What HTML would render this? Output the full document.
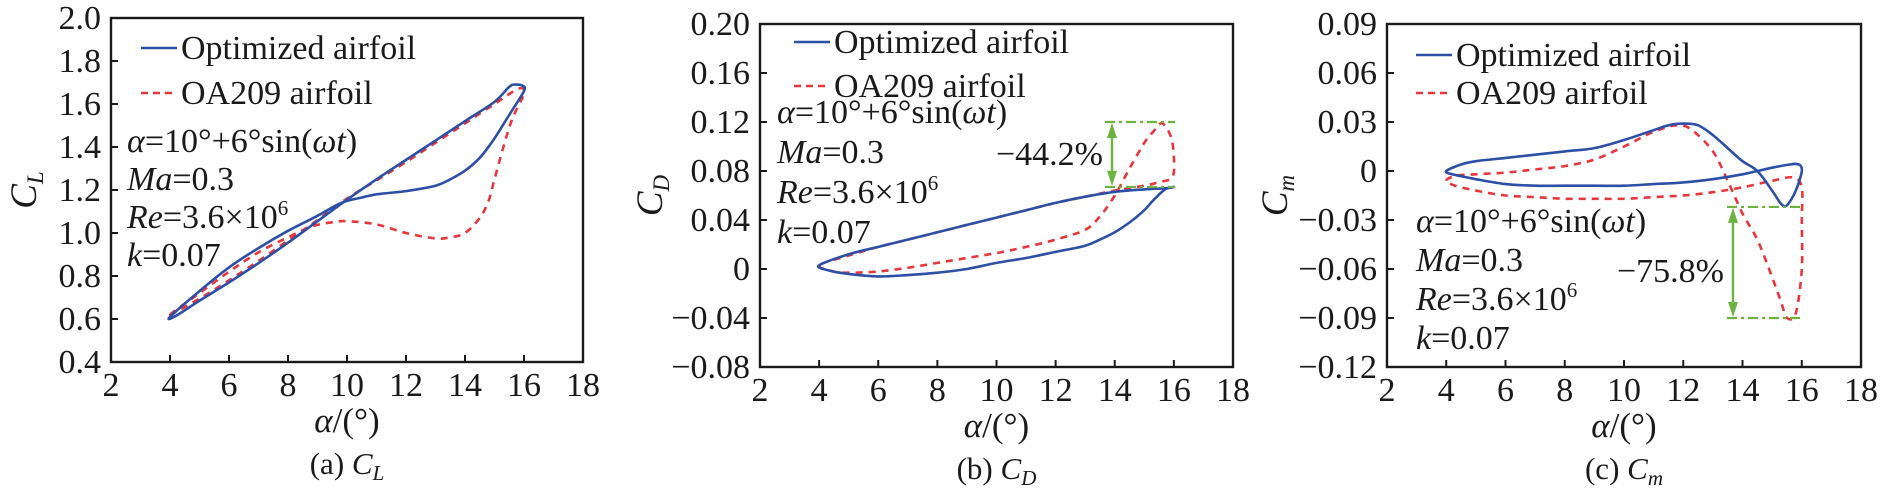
<!DOCTYPE html>
<html><head><meta charset="utf-8"><style>
html,body{margin:0;padding:0;background:#fff}
svg{display:block}
svg text{font-family:"Liberation Serif","Times New Roman",serif;fill:#1a1a1a}
</style></head><body>
<svg id="fig" width="1890" height="493" viewBox="0 0 1890 493" xmlns="http://www.w3.org/2000/svg" font-family="Liberation Serif, serif"></svg>
<script>
const xTicks = [2,4,6,8,10,12,14,16,18];
const clTicks = [0.4,0.6,0.8,1.0,1.2,1.4,1.6,1.8,2.0];
const clTickLabels = ["0.4","0.6","0.8","1.0","1.2","1.4","1.6","1.8","2.0"];
const cdTicks = [-0.08,-0.04,0,0.04,0.08,0.12,0.16,0.20];
const cdTickLabels = ["\u22120.08","\u22120.04","0","0.04","0.08","0.12","0.16","0.20"];
const cmTicks = [-0.12,-0.09,-0.06,-0.03,0,0.03,0.06,0.09];
const cmTickLabels = ["\u22120.12","\u22120.09","\u22120.06","\u22120.03","0","0.03","0.06","0.09"];

const clOptAlpha = [4,5,6,7,8,9,9.8,10.5,11,12,13,13.5,14,14.5,15,15.5,16,15.95,15.7,15.5,15,14,13,12,11,10,9,8,7,6,5,4.2];
const clOptVal   = [0.61,0.73,0.84,0.93,1.01,1.08,1.14,1.165,1.18,1.195,1.22,1.25,1.29,1.35,1.44,1.55,1.66,1.685,1.69,1.68,1.61,1.52,1.43,1.34,1.25,1.155,1.055,0.955,0.86,0.77,0.685,0.615];
const clBaseAlpha = [4,5,6,7,8,8.8,9.5,10,11,12,13,13.5,14,14.5,14.8,15,15.3,15.6,16,15.8,15,14,13,12,11,10,9,8,7,6,5];
const clBaseVal   = [0.62,0.72,0.82,0.91,0.98,1.03,1.05,1.055,1.04,1.0,0.975,0.98,1.0,1.07,1.15,1.25,1.40,1.53,1.65,1.67,1.60,1.51,1.42,1.33,1.245,1.16,1.06,0.965,0.87,0.78,0.695];

const cdOptAlpha = [4,5,6,7,8,9,10,11,12,13,14,15,15.8,16,15.7,15.3,15,14.5,14,13.5,13,12,11,10,9,8,7,6,5,4.3];
const cdOptVal   = [0.003,0.012,0.018,0.024,0.030,0.036,0.042,0.048,0.054,0.059,0.063,0.065,0.066,0.067,0.065,0.056,0.048,0.038,0.030,0.024,0.019,0.014,0.009,0.005,0.0,-0.003,-0.005,-0.006,-0.004,-0.001];
const cdBaseAlpha = [4,4.5,5,6,7,8,9,10,11,12,13,13.5,14,14.5,15,15.3,15.6,15.9,16,15.95,15.5,15,14,13,12,11,10,9,8,7,6,5];
const cdBaseVal   = [0.003,-0.002,-0.003,-0.002,0.001,0.005,0.009,0.013,0.018,0.024,0.032,0.043,0.060,0.082,0.103,0.112,0.119,0.108,0.091,0.075,0.071,0.068,0.064,0.059,0.054,0.048,0.042,0.036,0.030,0.024,0.018,0.011];

const cmOptAlpha = [4,4.5,5,6,7,8,9,10,11,11.5,12,12.5,13,13.5,14,14.5,15,15.3,15.5,15.8,16,15.9,15.6,15,14,13,12,11,10,9,8,7,6,5,4.2];
const cmOptVal   = [0,0.004,0.006,0.008,0.010,0.012,0.014,0.019,0.025,0.028,0.029,0.028,0.022,0.014,0.006,0.0,-0.012,-0.02,-0.021,-0.012,0.0,0.004,0.004,0.002,-0.002,-0.005,-0.007,-0.008,-0.009,-0.009,-0.009,-0.009,-0.008,-0.005,-0.002];
const cmBaseAlpha = [4,4.3,5,6,7,8,9,10,11,11.8,12.3,13,13.5,14,14.5,15,15.3,15.5,15.8,16,16,16,15.7,15,14,13,12,11,10,9,8,7,6,5,4.3];
const cmBaseVal   = [-0.006,-0.003,-0.002,-0.001,0.001,0.003,0.007,0.015,0.024,0.028,0.025,0.012,-0.006,-0.026,-0.042,-0.065,-0.08,-0.09,-0.087,-0.06,-0.03,-0.01,-0.004,-0.006,-0.010,-0.013,-0.015,-0.016,-0.017,-0.017,-0.017,-0.016,-0.015,-0.012,-0.009];

const NS="http://www.w3.org/2000/svg";
const svg=document.getElementById('fig');
function mk(tag,attrs,parent){const e=document.createElementNS(NS,tag);for(const k in attrs)e.setAttribute(k,attrs[k]);if(tag==='text')e.setAttribute('font-family','Liberation Serif, serif');(parent||svg).appendChild(e);return e;}
function smooth(pts){
  const n=pts.length;let d=`M${pts[0][0].toFixed(1)},${pts[0][1].toFixed(1)}`;
  for(let i=0;i<n;i++){
    const p0=pts[(i-1+n)%n],p1=pts[i],p2=pts[(i+1)%n],p3=pts[(i+2)%n];
    const c1=[p1[0]+(p2[0]-p0[0])/6,p1[1]+(p2[1]-p0[1])/6];
    const c2=[p2[0]-(p3[0]-p1[0])/6,p2[1]-(p3[1]-p1[1])/6];
    d+=`C${c1[0].toFixed(1)},${c1[1].toFixed(1)} ${c2[0].toFixed(1)},${c2[1].toFixed(1)} ${p2[0].toFixed(1)},${p2[1].toFixed(1)}`;
  }
  return d+'Z';
}

function panel(cfg){
  const g=mk('g',{});
  
  
  const sx=v=>cfg.L+(v-2)/16*(cfg.R-cfg.L);
  const sy=v=>cfg.B-(v-cfg.ymin)/(cfg.ymax-cfg.ymin)*(cfg.B-cfg.T);
  const red=mk('path',{d:smooth(cfg.baseA.map((a,i)=>[sx(a),sy(cfg.baseV[i])])),fill:'none',stroke:'#e8363c','stroke-width':2.6,'stroke-dasharray':'7,6'},g);
  
  
  const blue=mk('path',{d:smooth(cfg.optA.map((a,i)=>[sx(a),sy(cfg.optV[i])])),fill:'none',stroke:'#2d50a6','stroke-width':2.6},g);
  
  
  const fr=mk('rect',{x:cfg.L,y:cfg.T,width:cfg.R-cfg.L,height:cfg.B-cfg.T,fill:'none',stroke:'#1a1a1a','stroke-width':2.4},g);
  
  
  xTicks.forEach(t=>{
    const x=sx(t);
    if(t>2&&t<18) mk('line',{x1:x,x2:x,y1:cfg.B,y2:cfg.B-7,stroke:'#1a1a1a','stroke-width':2},g);
    const tx=mk('text',{x:x,y:cfg.B+34,'font-size':34,'text-anchor':'middle'},g);
    tx.textContent=t;
    
    
  });
  cfg.yt.forEach((t,i)=>{
    const y=sy(t);
    if(i>0&&i<cfg.yt.length-1) mk('line',{x1:cfg.L,x2:cfg.L+7,y1:y,y2:y,stroke:'#1a1a1a','stroke-width':2},g);
    const tx=mk('text',{x:cfg.L-10,y:y+11,'font-size':34,'text-anchor':'end'},g);
    tx.textContent=cfg.yl[i];
    
    
  });
  const cx=(cfg.L+cfg.R)/2;
  const xt=mk('text',{x:cx,y:cfg.B+70,'font-size':35,'text-anchor':'middle'},g);
  xt.innerHTML='<tspan font-style="italic">α</tspan>/(°)';
  
  
  const cap=mk('text',{x:cx,y:cfg.B+112,'font-size':31,'text-anchor':'middle'},g);
  cap.innerHTML=cfg.cap+' <tspan font-style="italic">C</tspan><tspan font-style="italic" font-size="21" dy="6">'+cfg.sub+'</tspan>';
  
  
  const yt=mk('text',{x:0,y:0,'font-size':37,'text-anchor':'middle',transform:`translate(${cfg.ytx},${(cfg.T+cfg.B)/2}) rotate(-90)`},g);
  yt.innerHTML='<tspan font-style="italic">C</tspan><tspan font-style="italic" font-size="23" dy="7">'+cfg.sub+'</tspan>';
  
  
  const l1=mk('line',{x1:cfg.lgx,x2:cfg.lgx+36,y1:cfg.lgy1,y2:cfg.lgy1,stroke:'#2d50a6','stroke-width':2.6},g);
  
  
  const t1=mk('text',{x:cfg.lgx+40,y:cfg.lgy1+11,'font-size':34},g);
  t1.textContent='Optimized airfoil';
  
  
  const l2=mk('line',{x1:cfg.lgx,x2:cfg.lgx+36,y1:cfg.lgy2,y2:cfg.lgy2,stroke:'#e8363c','stroke-width':2.6,'stroke-dasharray':'7,5'},g);
  
  
  const t2=mk('text',{x:cfg.lgx+40,y:cfg.lgy2+11,'font-size':34},g);
  t2.textContent='OA209 airfoil';
  
  
  const lines=['<tspan font-style="italic">α</tspan>=10°+6°sin(<tspan font-style="italic">ωt</tspan>)',
    '<tspan font-style="italic">Ma</tspan>=0.3',
    '<tspan font-style="italic">Re</tspan>=3.6×10<tspan font-size="21" dy="-13">6</tspan>',
    '<tspan font-style="italic">k</tspan>=0.07'];
  lines.forEach((h,i)=>{
    const t=mk('text',{x:cfg.ax,y:cfg.ay+i*cfg.ad,'font-size':34},g);
    t.innerHTML=h;
    
    
  });
  if(cfg.gr){
    const [gx1,gx2,gxa,gy1,gy2,lab,ly]=cfg.gr;
    const a=sy(gy1),b=sy(gy2);
    [a,b].forEach(y=>{const l=mk('line',{x1:gx1,x2:gx2,y1:y,y2:y,stroke:'#6cb33f','stroke-width':2.2,'stroke-dasharray':'10,4,3,4'},g);
      
      });
    const ar=mk('line',{x1:gxa,x2:gxa,y1:a+12,y2:b-12,stroke:'#6cb33f','stroke-width':2.4},g);
    
    
    mk('polygon',{points:`${gxa},${a+1} ${gxa-5},${a+16} ${gxa+5},${a+16}`,fill:'#6cb33f'},g);
    mk('polygon',{points:`${gxa},${b-1} ${gxa-5},${b-16} ${gxa+5},${b-16}`,fill:'#6cb33f'},g);
    const t=mk('text',{x:gxa-9,y:ly,'font-size':34,'text-anchor':'end'},g);
    t.textContent=lab;
    
    
  }
}

panel({name:'panel-cl',L:111,R:583,T:18,B:362,ymin:0.4,ymax:2.0,yt:clTicks,yl:clTickLabels,
  optA:clOptAlpha,optV:clOptVal,baseA:clBaseAlpha,baseV:clBaseVal,cap:'(a)',sub:'L',ytx:36,
  lgx:141,lgy1:48,lgy2:93,ax:127,ay:152,ad:38});
panel({name:'panel-cd',L:760,R:1233,T:24,B:367,ymin:-0.08,ymax:0.20,yt:cdTicks,yl:cdTickLabels,
  optA:cdOptAlpha,optV:cdOptVal,baseA:cdBaseAlpha,baseV:cdBaseVal,cap:'(b)',sub:'D',ytx:662,
  lgx:794,lgy1:42,lgy2:86,ax:777,ay:123,ad:40,
  gr:[1105,1175,1112,0.12,0.067,'\u221244.2%',165]});
panel({name:'panel-cm',L:1387,R:1861,T:24,B:367,ymin:-0.12,ymax:0.09,yt:cmTicks,yl:cmTickLabels,
  optA:cmOptAlpha,optV:cmOptVal,baseA:cmBaseAlpha,baseV:cmBaseVal,cap:'(c)',sub:'m',ytx:1287,
  lgx:1416,lgy1:55,lgy2:93,ax:1416,ay:232,ad:39,
  gr:[1727,1800,1733,-0.022,-0.09,'\u221275.8%',282]});
</script>
</body></html>
